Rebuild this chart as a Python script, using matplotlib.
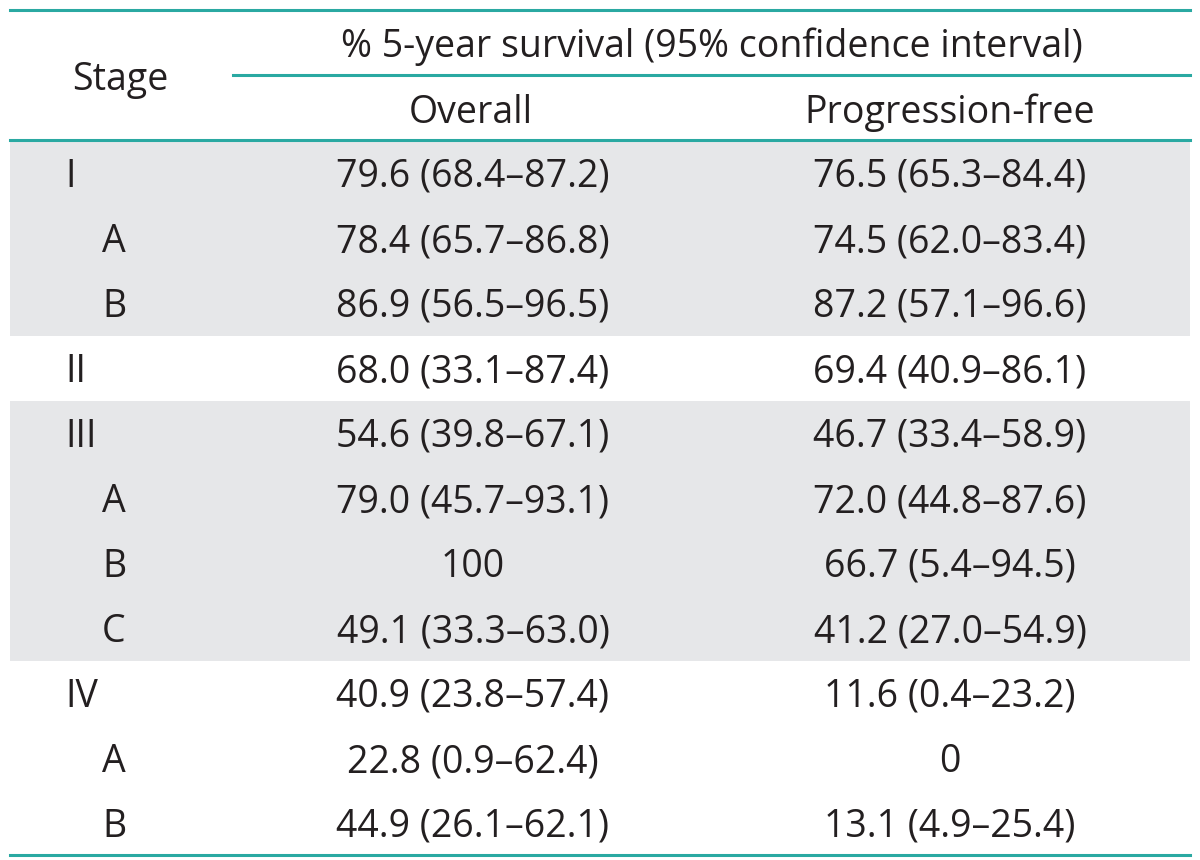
import matplotlib
matplotlib.use('Agg')
import matplotlib.pyplot as plt

plt.rcParams['font.family'] = ['Open Sans', 'DejaVu Sans']

# Table content
stages = ['I', 'A', 'B', 'II', 'III', 'A', 'B', 'C', 'IV', 'A', 'B']
is_sub = [False, True, True, False, False, True, True, True, False, True, True]
overall = ['79.6 (68.4\u201387.2)', '78.4 (65.7\u201386.8)', '86.9 (56.5\u201396.5)',
           '68.0 (33.1\u201387.4)', '54.6 (39.8\u201367.1)', '79.0 (45.7\u201393.1)',
           '100', '49.1 (33.3\u201363.0)', '40.9 (23.8\u201357.4)',
           '22.8 (0.9\u201362.4)', '44.9 (26.1\u201362.1)']
prog_free = ['76.5 (65.3\u201384.4)', '74.5 (62.0\u201383.4)', '87.2 (57.1\u201396.6)',
             '69.4 (40.9\u201386.1)', '46.7 (33.4\u201358.9)', '72.0 (44.8\u201387.6)',
             '66.7 (5.4\u201394.5)', '41.2 (27.0\u201354.9)', '11.6 (0.4\u201323.2)',
             '0', '13.1 (4.9\u201325.4)']
group_of_row = [0, 0, 0, 1, 2, 2, 2, 2, 3, 3, 3]

teal = '#2aa9a2'
gray = '#e6e7e9'
txt = '#231f20'
fs = 27

fig = plt.figure(figsize=(12, 8.6), dpi=100)
ax = fig.add_axes([0, 0, 1, 1])
ax.set_xlim(0, 1200)
ax.set_ylim(860, 0)
ax.axis('off')

row_h = 65
first_y = 173
band_top = 140

# shaded groups (I and III blocks)
for g in (0, 2):
    rows = [i for i, gg in enumerate(group_of_row) if gg == g]
    y0 = first_y + rows[0] * row_h - row_h / 2
    y1 = first_y + rows[-1] * row_h + row_h / 2
    ax.add_patch(plt.Rectangle((10, y0), 1180, y1 - y0, color=gray, lw=0, zorder=0))

# header
ax.text(120, 90, 'Stage', ha='center', va='baseline', fontsize=fs, color=txt)
ax.text(712, 57, '% 5-year survival (95% confidence interval)', ha='center', va='baseline',
        fontsize=fs, color=txt)
ax.text(471, 123, 'Overall', ha='center', va='baseline', fontsize=fs, color=txt)
ax.text(950, 123, 'Progression-free', ha='center', va='baseline', fontsize=fs, color=txt)

# rules
ax.plot([10, 1190], [10, 10], color=teal, lw=2.2)
ax.plot([233, 1190], [75, 75], color=teal, lw=2.2)
ax.plot([10, 1190], [band_top, band_top], color=teal, lw=2.2)
ax.plot([10, 1190], [855, 855], color=teal, lw=2.2)

for i, (s, sub, o, p) in enumerate(zip(stages, is_sub, overall, prog_free)):
    y = first_y + i * row_h + 14
    ax.text(102 if sub else 65, y, s, ha='left', va='baseline', fontsize=fs, color=txt)
    ax.text(473, y, o, ha='center', va='baseline', fontsize=fs, color=txt)
    ax.text(950, y, p, ha='center', va='baseline', fontsize=fs, color=txt)

fig.savefig('out.png', dpi=100)
